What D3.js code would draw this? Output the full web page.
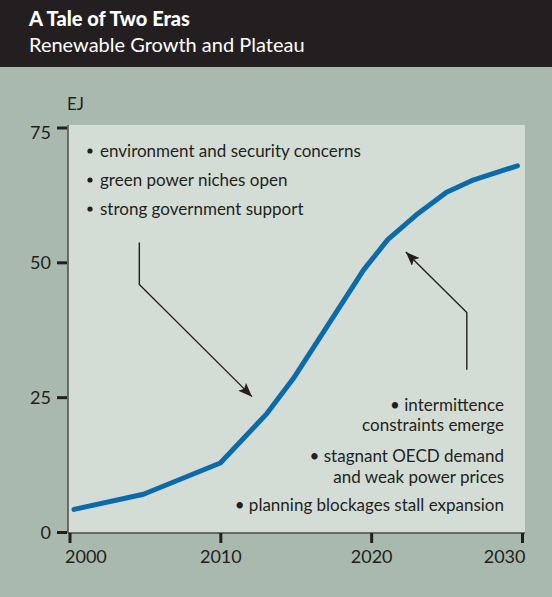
<!DOCTYPE html>
<html><head><meta charset="utf-8">
<script src="https://cdn.jsdelivr.net/npm/d3@7"></script>
<style>
html,body{margin:0;padding:0;background:#a9b9ae;}
svg{display:block;font-family:Lato,"Open Sans",sans-serif;}
</style></head>
<body>
<script>
const years  = [2000.3, 2004.9, 2010, 2013.1, 2014.85, 2019.5, 2021.1, 2023, 2025, 2026.8, 2029.7];
const values = [4.2, 7.0, 12.8, 22.0, 28.5, 48.6, 54.2, 58.8, 63.0, 65.3, 67.9];
const xTicks = [2000, 2010, 2020, 2030];
const yTicks = [0, 25, 50, 75];
const leftNotes  = ["environment and security concerns", "green power niches open", "strong government support"];
const rightNotes = [["• intermittence", "constraints emerge"], ["• stagnant OECD demand", "and weak power prices"], ["• planning blockages stall expansion"]];
// annotation arrows in data coordinates: [start, elbow, tip]
const arrowUp   = [[2004.63, 53.7], [2004.63, 45.9], [2012.1, 25.1]];
const arrowDown = [[2026.34, 30.1], [2026.34, 40.7], [2022.3, 51.9]];

const W = 552, H = 597;
const C = {header:"#231f20", bg:"#a9b9ae", plot:"#d3ddd6", ink:"#231f20", line:"#0a6aab"};
const svg = d3.select("body").append("svg").attr("width", W).attr("height", H);
svg.append("rect").attr("width", W).attr("height", H).attr("fill", C.bg);
svg.append("rect").attr("width", W).attr("height", 67).attr("fill", C.header);
svg.append("text").attr("x", 29).attr("y", 26).attr("fill", "#fff")
  .attr("font-size", 20).attr("font-weight", 900).text("A Tale of Two Eras");
svg.append("text").attr("x", 29).attr("y", 52).attr("fill", "#fff")
  .attr("font-size", 20).attr("font-weight", 400).text("Renewable Growth and Plateau");

const x = d3.scaleLinear().domain([2000, 2030]).range([69.5, 522]);
const y = d3.scaleLinear().domain([0, 75]).range([532, 127.5]);
const plotL = 68, plotR = 525, plotT = 125, plotB = 533;

svg.append("rect").attr("x", plotL).attr("y", plotT).attr("width", plotR - plotL).attr("height", plotB - plotT).attr("fill", C.plot);
svg.append("line").attr("x1", plotL).attr("x2", plotL).attr("y1", plotT).attr("y2", plotB).attr("stroke", "#4a4a4a").attr("stroke-width", 1.5);
svg.append("line").attr("x1", plotL).attr("x2", plotR).attr("y1", plotB).attr("y2", plotB).attr("stroke", "#4a4a4a").attr("stroke-width", 1.5);

// y axis
const ya = svg.append("g").attr("transform", `translate(${plotL - 1},0)`)
  .call(d3.axisLeft(y).tickValues(yTicks).tickSize(10).tickPadding(6).tickFormat(d3.format("d")));
ya.select(".domain").remove();
ya.selectAll(".tick line").attr("stroke", C.ink).attr("stroke-width", 3);
ya.selectAll(".tick text").attr("font-size", 18).attr("fill", C.ink).attr("font-family", "Lato,sans-serif")
  .attr("dy", d => d === 75 ? "0.62em" : "0.34em");

// x axis
const xa = svg.append("g").attr("transform", `translate(0,${plotB})`)
  .call(d3.axisBottom(x).tickValues(xTicks).tickSize(10).tickPadding(7).tickFormat(d3.format("d")));
xa.select(".domain").remove();
xa.selectAll(".tick line").attr("stroke", C.ink).attr("stroke-width", 3);
xa.selectAll(".tick text").attr("font-size", 18).attr("fill", C.ink).attr("font-family", "Lato,sans-serif")
  .attr("text-anchor", (d, i) => i === 0 ? "start" : (i === xTicks.length - 1 ? "end" : "middle"))
  .attr("dx", (d, i) => i === 0 ? -5 : (i === xTicks.length - 1 ? 3 : 0));

svg.append("text").attr("x", 67).attr("y", 110).attr("font-size", 17).attr("fill", C.ink).text("EJ");

// data line
svg.append("path").datum(years.map((yr, i) => [yr, values[i]]))
  .attr("fill", "none").attr("stroke", C.line).attr("stroke-width", 5)
  .attr("stroke-linecap", "round").attr("stroke-linejoin", "round")
  .attr("d", d3.line().x(d => x(d[0])).y(d => y(d[1])));

// arrows
const defs = svg.append("defs");
defs.append("marker").attr("id", "ah").attr("viewBox", "0 0 14 11").attr("refX", 14).attr("refY", 5.5)
  .attr("markerWidth", 14).attr("markerHeight", 11).attr("markerUnits", "userSpaceOnUse").attr("orient", "auto")
  .append("path").attr("d", "M0,0 L14,5.5 L0,11 L3,5.5 Z").attr("fill", C.ink);
[arrowUp, arrowDown].forEach(a => {
  svg.append("path").attr("d", d3.line().x(d => x(d[0])).y(d => y(d[1]))(a))
    .attr("fill", "none").attr("stroke", C.ink).attr("stroke-width", 1.4).attr("marker-end", "url(#ah)");
});

// left notes
leftNotes.forEach((t, i) => {
  const yy = 151 + i * 29;
  svg.append("circle").attr("cx", 90).attr("cy", yy).attr("r", 2.6).attr("fill", C.ink);
  svg.append("text").attr("x", 100).attr("y", yy).attr("dy", "0.35em").attr("font-size", 17).attr("fill", C.ink).text(t);
});

// right notes
const rY = [[405, 425], [456, 477], [505]];
rightNotes.forEach((lines, i) => {
  lines.forEach((t, j) => {
    svg.append("text").attr("x", 504).attr("y", rY[i][j]).attr("dy", "0.35em").attr("text-anchor", "end")
      .attr("font-size", 17).attr("fill", C.ink).text(t);
  });
});
</script>
</body></html>
